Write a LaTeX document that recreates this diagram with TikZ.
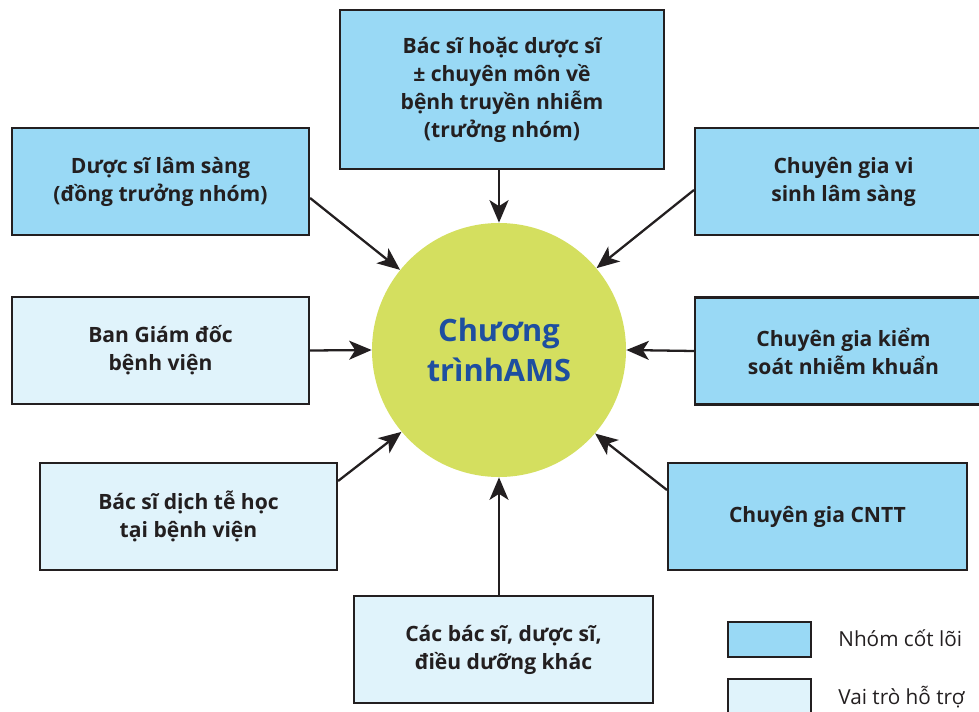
\documentclass[tikz,border=0pt]{standalone}
\usepackage{fontspec}
\setmainfont{Open Sans}
\usetikzlibrary{arrows.meta}
\definecolor{AMSCore}{HTML}{99D9F5}
\definecolor{AMSSupport}{HTML}{E0F3FB}
\definecolor{AMSLime}{HTML}{D4DF5F}
\definecolor{AMSNavy}{HTML}{1E4FA0}
\definecolor{AMSInk}{HTML}{231F20}
\tikzset{
  rolebox/.style={draw=AMSInk,line width=1.2pt,rectangle,align=center,
    minimum width=5.94cm,minimum height=2.14cm,inner sep=2pt,text=AMSInk,
    font=\bfseries\fontsize{12}{15.9}\selectfont},
  core/.style={rolebox,fill=AMSCore},
  support/.style={rolebox,fill=AMSSupport},
  feed/.style={draw=AMSInk,line width=1.3pt,
    -{Stealth[length=0.45cm,width=0.38cm,inset=0.12cm]}}
}

\begin{document}
\begin{tikzpicture}[x=1cm,y=1cm]
\path[use as bounding box] (0,0) rectangle (19.58,14.22);
% programme hub
\node[circle,fill=AMSLime,minimum size=5.08cm,inner sep=0pt,align=center,
  text=AMSNavy,font=\bfseries\fontsize{17.5}{23.2}\selectfont] (ams) at (9.98,7.22) {Chương\\trìnhAMS};
% team members
\node[core,minimum width=6.48cm,minimum height=3.18cm] (lead) at (10.04,12.43) {Bác sĩ hoặc dược sĩ\\± chuyên môn về\\bệnh truyền nhiễm\\(trưởng nhóm)};
\node[core] (pharm) at (3.21,10.59) {Dược sĩ lâm sàng\\(đồng trưởng nhóm)};
\node[core] (micro) at (16.87,10.59) {Chuyên gia vi\\sinh lâm sàng};
\node[support] (board) at (3.21,7.21) {Ban Giám đốc\\bệnh viện};
\node[core] (ipc) at (16.87,7.20) {Chuyên gia kiểm\\soát nhiễm khuẩn};
\node[support] (epi) at (3.77,3.89) {Bác sĩ dịch tễ học\\tại bệnh viện};
\node[core,minimum width=5.98cm] (it) at (16.35,3.89) {Chuyên gia CNTT};
\node[support,minimum width=5.98cm] (staff) at (10.07,1.23) {Các bác sĩ, dược sĩ,\\điều dưỡng khác};
% links to the hub
\draw[feed] (ams |- lead.south) -- (ams.north);
\draw[feed] (ams |- staff.north) -- (ams.south);
\draw[feed] (board.east) -- (ams.west);
\draw[feed] (ipc.west) -- (ams.east);
\draw[feed] ([yshift=-0.33cm]pharm.east) -- (ams.141);
\draw[feed] ([yshift=-0.17cm]micro.west) -- (ams.40);
\draw[feed] ([yshift=0.71cm]epi.east) -- (ams.220);
\draw[feed] ([yshift=0.53cm]it.west) -- (ams.319);
% legend
\node[draw=AMSInk,line width=1.2pt,fill=AMSCore,minimum width=1.66cm,minimum height=0.70cm] (keycore) at (15.39,1.43) {};
\node[anchor=west,inner sep=0pt,text=AMSInk,font=\fontsize{11.8}{14}\selectfont] (keycoretxt) at (16.76,1.46) {Nhóm cốt lõi};
\node[draw=AMSInk,line width=1.2pt,fill=AMSSupport,minimum width=1.66cm,minimum height=0.70cm] (keysup) at (15.39,0.29) {};
\node[anchor=west,inner sep=0pt,text=AMSInk,font=\fontsize{11.8}{14}\selectfont] (keysuptxt) at (16.76,0.28) {Vai trò hỗ trợ};
\end{tikzpicture}
\end{document}
